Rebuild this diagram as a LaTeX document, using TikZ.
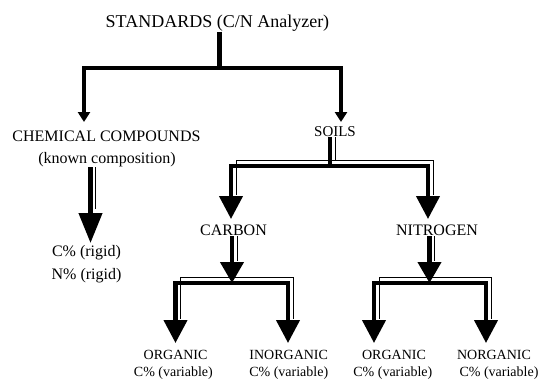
\documentclass[tikz,border=0pt]{standalone}
\usepackage{fontspec}
\setmainfont{Liberation Serif}
\usetikzlibrary{arrows.meta,calc}
\tikzset{
  txt/.style={inner sep=0.5pt, anchor=base},
  fA/.style={font=\fontsize{18}{20}\selectfont},
  fB/.style={font=\fontsize{16}{18}\selectfont},
  fC/.style={font=\fontsize{15}{17}\selectfont},
  fD/.style={font=\fontsize{14}{16}\selectfont},
  lone/.style={line width=4.5pt, line join=miter},
  lonea/.style={lone, -{Triangle[width=12pt,length=10pt]}},
  thk/.style={line width=4.2pt, line join=miter},
  shd/.style n args={2}{preaction={draw, line width=1pt, -, shorten <=#1, shorten >=#2, transform canvas={xshift=5pt,yshift=6pt}}},
  headtwo/.style={-{Triangle[width=23pt,length=23pt]}},
  headstem/.style={-{Triangle[width=23pt,length=21pt]}},
  headchem/.style={-{Triangle[width=23pt,length=30pt]}}
}
\begin{document}
\begin{tikzpicture}[x=1pt,y=-1pt]
\useasboundingbox (0,0) rectangle (540,380);
\fill[white] (0,0) rectangle (540,380);

% texts
\node[txt, fA] (std) at (217.5,27) {STANDARDS (C/N Analyzer)};
\node[txt, fB] (chem1) at (106.5,141.5) {CHEMICAL COMPOUNDS};
\node[txt, fB] (chem2) at (107,163) {(known composition)};
\node[txt, fC] (soils) at (335,136) {SOILS};
\node[txt, fB] (carbon) at (233.5,235.5) {CARBON};
\node[txt, fB] (nitro) at (437,235.5) {NITROGEN};
\node[txt, fB] (crig) at (86.5,256.5) {C\% (rigid)};
\node[txt, fB] (nrig) at (86.5,279.5) {N\% (rigid)};
\node[txt, fD] (org1) at (175.6,359) {ORGANIC};
\node[txt, fD] (var1) at (173.4,376) {C\% (variable)};
\node[txt, fD] (inorg) at (288.7,359) {INORGANIC};
\node[txt, fD] (var2) at (288.7,376.5) {C\% (variable)};
\node[txt, fD] (org2) at (394,359) {ORGANIC};
\node[txt, fD] (var3) at (392.8,376.5) {C\% (variable)};
\node[txt, fD] (norg) at (494,359) {NORGANIC};
\node[txt, fD] (var4) at (499,376.5) {C\% (variable)};

% level 1
\coordinate (j1) at (219.5,68);
\coordinate (t1a) at (84,122);
\coordinate (t1b) at (341,122);
\draw[lone] (std.south -| j1) -- (j1);
\draw[lonea] (j1) -| (t1a);
\draw[lonea] (j1) -| (t1b);

% chemical compounds
\coordinate (t2c) at (90.5,243);
\draw[thk, shd={6pt}{28pt}, headchem] (chem2.south -| t2c) -- (t2c);

% soils
\coordinate (sj) at (330,166);
\coordinate (tc) at (231,219);
\coordinate (tn) at (428,219);
\draw[thk, shd={6pt}{0pt}] (soils.south -| sj) -- (sj);
\draw[thk, shd={0pt}{18pt}, headtwo] (sj) -| (tc);
\draw[thk, shd={0pt}{18pt}, headtwo] (sj) -| (tn);

% carbon
\coordinate (cj) at (232,283);
\coordinate (to1) at (175.5,343);
\coordinate (ti1) at (288,343);
\draw[thk, shd={6pt}{16pt}, headstem] (carbon.south -| cj) -- (cj);
\draw[thk, shd={0pt}{18pt}, headtwo] (cj) -| (to1);
\draw[thk, shd={0pt}{18pt}, headtwo] (cj) -| (ti1);

% nitrogen
\coordinate (nj) at (429.5,283);
\coordinate (to2) at (374,343);
\coordinate (tn2) at (486,343);
\draw[thk, shd={6pt}{16pt}, headstem] (nitro.south -| nj) -- (nj);
\draw[thk, shd={0pt}{18pt}, headtwo] (nj) -| (to2);
\draw[thk, shd={0pt}{18pt}, headtwo] (nj) -| (tn2);
\end{tikzpicture}
\end{document}
